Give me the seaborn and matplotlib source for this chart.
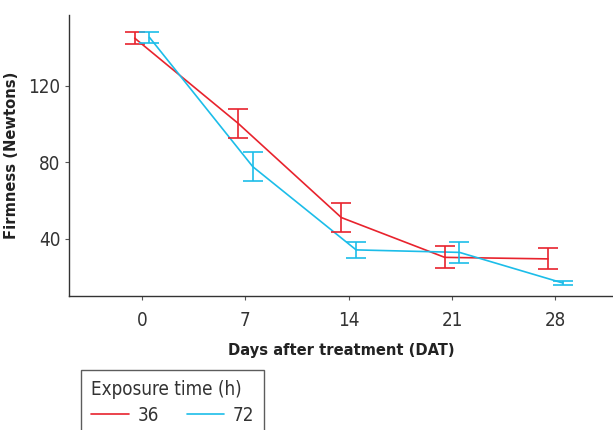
import matplotlib
matplotlib.use("Agg")
import matplotlib.pyplot as plt
from matplotlib import font_manager as fm
import seaborn as sns
import pandas as pd
from matplotlib.lines import Line2D

days = [0, 7, 14, 21, 28]
groups = ["36", "72"]
mean_36 = [145.0, 100.5, 51.2, 30.4, 29.6]
se_36 = [3.0, 7.5, 7.6, 5.7, 5.5]
mean_72 = [145.4, 77.8, 34.3, 33.0, 17.0]
se_72 = [3.0, 7.5, 4.0, 5.6, 1.2]
colors = {"36": "#E8232D", "72": "#1CBDE9"}
offsets = {"36": -0.5, "72": 0.5}

rows = []
for g, m, s in (("36", mean_36, se_36), ("72", mean_72, se_72)):
    for d, mv, sv in zip(days, m, s):
        rows.append({"day": d, "x": d + offsets[g], "group": g, "mean": mv, "se": sv})
df = pd.DataFrame(rows)

sns.set_style("white")

# pick a condensed font if one is available
fonts = fm.fontManager.ttflist
names = {f.name for f in fonts}
stretch = "normal"
if "Liberation Sans Narrow" in names:
    fam = "Liberation Sans Narrow"
elif any(f.name == "DejaVu Sans" and "Condensed" in f.fname for f in fonts):
    fam = "DejaVu Sans"
    stretch = "condensed"
else:
    cands = [f.name for f in fonts if "Condensed" in f.name or "Narrow" in f.name]
    fam = cands[0] if cands else "Liberation Sans"
plt.rcParams["font.family"] = [fam, "DejaVu Sans"]
plt.rcParams["font.stretch"] = stretch

fig = plt.figure(figsize=(6.13, 4.30), dpi=100)
ax = fig.add_axes([69/613, 1-296/430, 1-69/613, (296-15)/430])

sns.lineplot(data=df, x="x", y="mean", hue="group", palette=colors,
             ax=ax, linewidth=1.2, legend=False, errorbar=None)
for g in groups:
    sub = df[df.group == g]
    ax.errorbar(sub["x"], sub["mean"], yerr=sub["se"], fmt="none",
                ecolor=colors[g], elinewidth=1.2, capsize=7, capthick=1.2)

ax.set_xlim(-4.95, 31.9)
ax.set_ylim(10.2, 157.1)
ax.set_xticks(days)
ax.set_xticklabels([str(d) for d in days])
ax.set_yticks([40, 80, 120])
for s in ["top", "right"]:
    ax.spines[s].set_visible(False)
for s in ["left", "bottom"]:
    ax.spines[s].set_color("#333333")
    ax.spines[s].set_linewidth(1.0)
ax.tick_params(axis="both", which="both", length=3, width=0.8, color="#555555",
               labelsize=13.5, labelcolor="#333333", direction="out",
               bottom=True, left=True)
ax.tick_params(axis="x", pad=8)
ax.tick_params(axis="y", pad=3)
ax.set_xlabel("Days after treatment (DAT)", fontsize=11.8, fontweight="bold",
              color="#222222", labelpad=9)
ax.set_ylabel("Firmness (Newtons)", fontsize=11.8, fontweight="bold",
              color="#222222", labelpad=7)

handles = [Line2D([], [], color=colors[g], linewidth=1.2) for g in groups]
leg = fig.legend(handles, groups, title="Exposure time (h)", ncol=2,
                 loc="upper left", bbox_to_anchor=(81/613, 1-369.5/430),
                 borderaxespad=0, frameon=True, fancybox=False,
                 fontsize=13.5, title_fontsize=13.5,
                 handlelength=2.0, columnspacing=1.5, handletextpad=0.45,
                 borderpad=0.55, labelspacing=0.1)
leg._legend_box.align = "left"
leg._legend_box.sep = 5
leg.get_frame().set_edgecolor("#333333")
leg.get_frame().set_linewidth(1.0)
for t in leg.get_texts():
    t.set_color("#333333")
leg.get_title().set_color("#333333")

fig.savefig("out.png", dpi=100)
